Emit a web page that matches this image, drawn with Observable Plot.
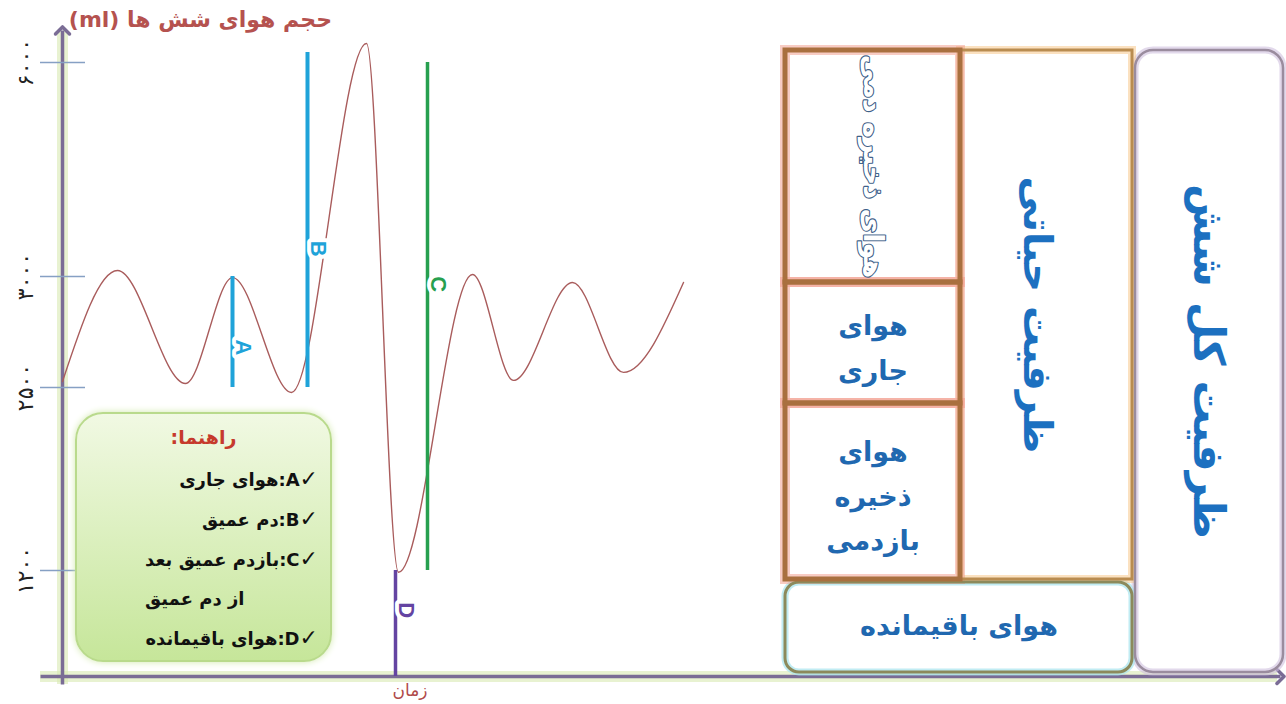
<!DOCTYPE html>
<html>
<head>
<meta charset="utf-8">
<script src="https://cdn.jsdelivr.net/npm/d3@7"></script>
<script src="https://cdn.jsdelivr.net/npm/@observablehq/plot@0.6"></script>
<style>
  body { margin: 0; background: #fff; }
  #wrap { position: relative; width: 1286px; height: 704px; overflow: hidden; font-family: "DejaVu Sans", sans-serif; }
  #wrap svg { position: absolute; left: 0; top: 0; }
  #title { position: absolute; left: 20px; top: 7px; width: 312px; text-align: right; direction: rtl;
           font: bold 22px "DejaVu Sans", sans-serif; color: #b5524f; white-space: nowrap; }
  #timeLabel { position: absolute; left: 370px; top: 680px; width: 80px; text-align: center; direction: rtl;
               font: 17px "DejaVu Sans", sans-serif; color: #b04a4a; }
  #legend { position: absolute; left: 75px; top: 412px; width: 257px; height: 250px; box-sizing: border-box;
            border-radius: 28px; border: 2px solid #b9da8c; background: linear-gradient(#f1f9e3, #c6e69a);
            box-shadow: 0 0 7px #d3e9ae; direction: rtl; font: bold 18px "DejaVu Sans", sans-serif; color: #111; }
  #legend .head { position: absolute; left: 0; right: 0; top: 12px; text-align: center; color: #c63a2c; font-size: 19px; }
  #legend .items { position: absolute; right: 12px; top: 45px; width: max-content; }
  #legend .items div { line-height: 39px; text-align: right; }
  #legend .items div.cont { text-align: left; }
  #legend .check { font-size: 22px; }
</style>
</head>
<body>
<div id="wrap"></div>
<script>
// Volume ticks on the vertical axis (ml)
const yTicks = [6000, 3000, 2500, 1200];
const yTickLabels = ["۶۰۰۰", "۳۰۰۰", "۲۵۰۰", "۱۲۰۰"];

// Spirogram trace: turning points of the breathing record, time (s) and lung volume (ml)
const timeS = [0, 5.5, 12.3, 17.0, 22.9, 30.4, 33.6, 41.0, 45.1, 51.0, 56.1, 62.1];
const volumeMl = [2527, 3084, 2518, 2995, 2465, 6266, 1180, 3028, 2532, 2973, 2568, 2973];

// Lettered brackets on the trace
const markerLetters = ["A", "B", "C", "D"];
const markerTime = [17.0, 24.5, 36.5, 33.3];
const markerFrom = [2500, 2500, 1200, 0];
const markerTo = [3000, 6140, 6000, 1200];
const markerLabelAt = [2680, 3390, 2965, 750];

// Legend
const legendTitle = "راهنما:";
const legendLines = ["✓A:هوای جاری", "✓B:دم عمیق", "✓C:بازدم عمیق بعد", "از دم عمیق", "✓D:هوای باقیمانده"];

// Volume and capacity blocks: column span and volume span (ml)
const boxNames = ["هوای ذخیره دمی", "هوای جاری", "هوای ذخیره بازدمی", "ظرفیت حیاتی", "هوای باقیمانده", "ظرفیت کل شش"];
const boxText = ["هوای ذخیره دمی", "هوای\nجاری", "هوای\nذخیره\nبازدمی", "ظرفیت حیاتی", "هوای باقیمانده", "ظرفیت کل شش"];
const boxColFrom = [0, 0, 0, 1, 0, 2];
const boxColTo = [1, 1, 1, 2, 2, 3];
const boxLow = [3000, 2500, 1200, 1200, 0, 0];
const boxHigh = [6000, 3000, 2500, 6000, 1200, 6000];

// ---- styles ----
const markerColor = {A: "#1fa3d9", B: "#1fa3d9", C: "#27a04f", D: "#6444a2"};
const markerWidth = {A: 4, B: 4, C: 3.5, D: 3.5};
const axisColor = "#7a6c95";
const volKnots = [0, 1200, 2500, 3000, 6000];

// The volume axis is schematic: each volume band gets its own drawn height.
const traceHeight = d3.scaleLinear(volKnots, [0, 106, 289, 400, 614]);
const blockHeight = d3.scaleLinear(volKnots, [0, 93, 269, 390, 622]);
const blockWidth = d3.scaleLinear([0, 1, 2, 3], [0, 175, 347, 498]);

const curve = timeS.map((t, i) => ({t, v: volumeMl[i]}));
const markers = markerLetters.map((letter, i) => ({
  letter, t: markerTime[i], from: markerFrom[i], to: markerTo[i], labelAt: markerLabelAt[i]
}));

const wrap = document.getElementById("wrap");

// ---- spirogram ----
const markerMarks = markers.flatMap((m) => [
  Plot.ruleX([m], {x: "t", y1: "from", y2: "to", stroke: markerColor[m.letter], strokeWidth: markerWidth[m.letter]}),
  Plot.text([m], {x: "t", y: "labelAt", text: "letter", rotate: 90, dx: 11, fontSize: 22, fontWeight: 600,
    fontFamily: "Liberation Sans, Arial, sans-serif", fill: markerColor[m.letter], stroke: "white", strokeWidth: 8})
]);

const chart = Plot.plot({
  width: 1286,
  height: 704,
  margin: 0,
  style: {background: "transparent", overflow: "visible", fontFamily: "DejaVu Sans"},
  x: {domain: [0, 122.4], range: [62, 1286], axis: null},
  y: {transform: traceHeight, domain: [0, 614], range: [676, 62], axis: null},
  marks: [
    Plot.ruleX([0], {y1: -90, y2: 6440, stroke: "#d8eab2", strokeWidth: 11, strokeOpacity: 0.6}),
    Plot.ruleY([0], {x1: -2.2, x2: 121.5, stroke: "#d8eab2", strokeWidth: 11, strokeOpacity: 0.6}),
    Plot.link([0], {x1: 0, y1: -90, x2: 0, y2: 6450, stroke: axisColor, strokeWidth: 3.5, markerEnd: "arrow"}),
    Plot.link([0], {x1: -2.2, y1: 0, x2: 121.8, y2: 0, stroke: axisColor, strokeWidth: 3.5, markerEnd: "arrow"}),
    Plot.ruleY(yTicks, {x1: -2.2, x2: 2.3, stroke: "#86a0c4", strokeWidth: 1.4}),
    Plot.text(yTicks, {x: 0, y: (d) => d, text: (d, i) => yTickLabels[i], dx: -37, rotate: -90,
      fontSize: 22, fill: "#222"}),
    Plot.line(curve, {x: "t", y: "v", curve: "monotone-x", stroke: "#a95c5c", strokeWidth: 1.4}),
    ...markerMarks
  ]
});
wrap.appendChild(chart);

// ---- volume / capacity blocks ----
const midVol = (lo, hi) => blockHeight.invert((blockHeight(lo) + blockHeight(hi)) / 2);
const boxes = boxNames.map((name, i) => ({
  name, label: boxText[i], c1: boxColFrom[i], c2: boxColTo[i], lo: boxLow[i], hi: boxHigh[i],
  cx: blockWidth.invert((blockWidth(boxColFrom[i]) + blockWidth(boxColTo[i])) / 2),
  cy: midVol(boxLow[i], boxHigh[i])
}));
const volBoxes = boxes.slice(0, 3);
const vcBox = [boxes[3]];
const rvBox = [boxes[4]];
const tlcBox = [boxes[5]];
const rectPos = {x1: "c1", x2: "c2", y1: "lo", y2: "hi", fill: "none"};

const blocks = Plot.plot({
  width: 1286,
  height: 704,
  margin: 0,
  style: {background: "transparent", overflow: "visible", fontFamily: "DejaVu Sans"},
  x: {transform: blockWidth, domain: [0, 498], range: [785, 1283], axis: null},
  y: {transform: blockHeight, domain: [0, 622], range: [672, 50], axis: null},
  marks: [
    Plot.rect(tlcBox, {...rectPos, insetLeft: 3, rx: 18, stroke: "#cfc0de", strokeWidth: 7, strokeOpacity: 0.6}),
    Plot.rect(rvBox, {...rectPos, insetTop: 3, rx: 14, stroke: "#a6e4ee", strokeWidth: 7, strokeOpacity: 0.7}),
    Plot.rect(vcBox, {...rectPos, stroke: "#f7c98c", strokeWidth: 8, strokeOpacity: 0.55}),
    Plot.rect(volBoxes, {...rectPos, stroke: "#f2998a", strokeWidth: 10, strokeOpacity: 0.5}),
    Plot.rect(tlcBox, {...rectPos, insetLeft: 3, rx: 18, stroke: "#9a8c9e", strokeWidth: 2.5}),
    Plot.rect(rvBox, {...rectPos, insetTop: 3, rx: 14, stroke: "#8c8a5c", strokeWidth: 3}),
    Plot.rect(vcBox, {...rectPos, stroke: "#b98c50", strokeWidth: 3}),
    Plot.rect(volBoxes, {...rectPos, stroke: "#a9703f", strokeWidth: 5}),
    Plot.text([boxes[0]], {x: "cx", y: "cy", text: "label", rotate: 90, fontSize: 27, fontWeight: "bold",
      fill: "white", stroke: "#3f6189", strokeWidth: 2.2}),
    Plot.text([boxes[1], boxes[2]], {x: "cx", y: "cy", text: "label", fontSize: 27, fontWeight: "bold",
      lineHeight: 1.65, fill: "#2068b0"}),
    Plot.text(rvBox, {x: "cx", y: "cy", text: "label", fontSize: 27, fontWeight: "bold", fill: "#2068b0"}),
    Plot.text(vcBox, {x: "cx", y: "cy", text: "label", rotate: 90, dx: -10, fontSize: 40, fontWeight: "bold", fill: "#1c70c0"}),
    Plot.text(tlcBox, {x: "cx", y: "cy", text: "label", rotate: 90, fontSize: 43, fontWeight: "bold", fill: "#1c70c0"})
  ]
});
wrap.appendChild(blocks);

// ---- text overlays ----
const title = document.createElement("div");
title.id = "title";
title.textContent = "حجم هوای شش ها (ml)";
wrap.appendChild(title);

const timeLabel = document.createElement("div");
timeLabel.id = "timeLabel";
timeLabel.textContent = "زمان";
wrap.appendChild(timeLabel);

const legend = document.createElement("div");
legend.id = "legend";
const head = document.createElement("div");
head.className = "head";
head.textContent = legendTitle;
legend.appendChild(head);
const items = document.createElement("div");
items.className = "items";
legendLines.forEach((line) => {
  const row = document.createElement("div");
  if (line.startsWith("✓")) {
    const check = document.createElement("span");
    check.className = "check";
    check.textContent = "✓";
    row.appendChild(check);
    row.appendChild(document.createTextNode(line.slice(1)));
  } else {
    row.className = "cont";
    row.textContent = line;
  }
  items.appendChild(row);
});
legend.appendChild(items);
wrap.appendChild(legend);
</script>
</body>
</html>
